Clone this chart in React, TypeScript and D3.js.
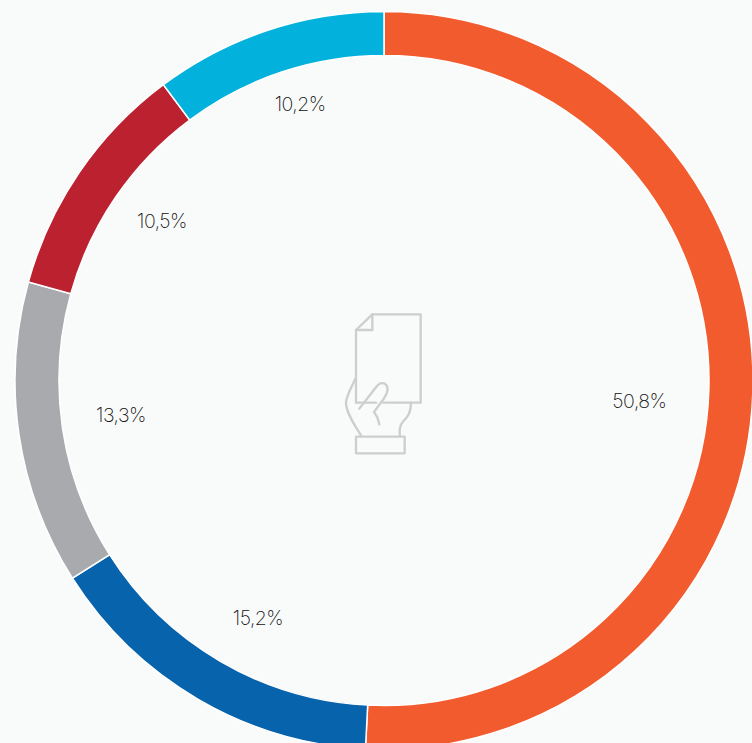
import React, { useLayoutEffect } from "react";
import * as d3 from "d3";

const values = [50.8, 15.2, 13.3, 10.5, 10.2];
const labels = ["50,8%", "15,2%", "13,3%", "10,5%", "10,2%"];
const colors = ["#F25B2D", "#0863AD", "#A9AAAD", "#BC2130", "#02B2DC"];
const labelNudges: [number, number][] = [
  [0.5, 14.5],
  [2.4, 17.5],
  [-10.8, -3.5],
  [-11.6, -16],
  [-3.5, -34],
];

const W = 752;
const H = 743;
const CX = 384;
const CY = 380.5;
const BG = "#F9FBFA";

export default function App() {
  useLayoutEffect(() => {
    document.body.style.margin = "0";
    document.body.style.background = BG;
  }, []);
  const pie = d3.pie<number>().sort(null).value((d) => d);
  const arcs = pie(values);
  const arc = d3.arc<d3.PieArcDatum<number>>().innerRadius(325).outerRadius(369);
  const labelArc = d3.arc<d3.PieArcDatum<number>>().innerRadius(255).outerRadius(255);
  return (
    <svg width={W} height={H} viewBox={`0 0 ${W} ${H}`} style={{ display: "block", background: BG }}>
      <g transform={`translate(${CX},${CY})`}>
        {arcs.map((a, i) => (
          <path key={i} d={arc(a) as string} fill={colors[i]} stroke="#FFFFFF" strokeWidth={1.5} />
        ))}
        {arcs.map((a, i) => {
          const [x, y] = labelArc.centroid(a);
          return (
            <text
              key={i}
              x={x + labelNudges[i][0]}
              y={y + labelNudges[i][1]}
              textAnchor="middle"
              dominantBaseline="central"
              fontFamily="Inter, sans-serif"
              fontWeight={250}
              fontSize={19.5}
              fill="#111111"
              letterSpacing={-0.5}
            >
              {labels[i]}
            </text>
          );
        })}
      </g>
      <g
        transform="translate(320,290) scale(0.3333)"
        fill="none"
        stroke="#CDCECE"
        strokeWidth={7}
        strokeLinejoin="round"
        strokeLinecap="round"
      >
        <path d="M157 73 H302 V338 H190 M168 338 H108 V120 L157 73" />
        <path d="M108 120 H157 V73" />
        <path d="M118 356 L168 292 C178 276 196 274 202 292 C206 304 198 316 190 328 L162 366 L172 382 L178 403" />
        <path d="M106 266 C96 290 78 318 78 340 C80 372 106 408 124 438" />
        <path d="M273 338 C272 372 262 382 248 396 C238 408 238 424 240 438" />
        <rect x={108} y={440} width={146} height={50} />
      </g>
    </svg>
  );
}
